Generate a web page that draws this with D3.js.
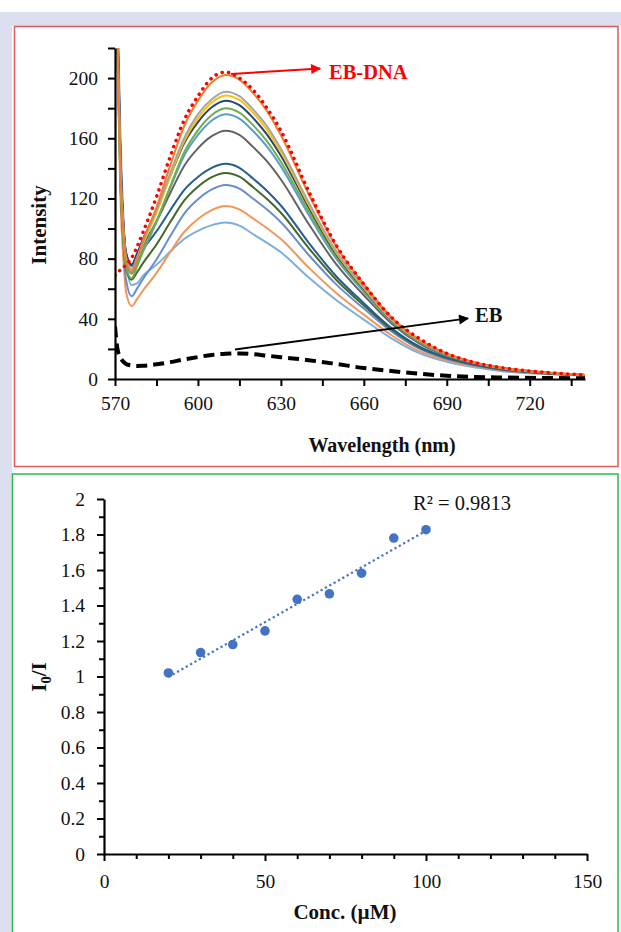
<!DOCTYPE html>
<html>
<head>
<meta charset="utf-8">
<script src="https://cdn.jsdelivr.net/npm/d3@7"></script>
<style>
  html, body { margin: 0; padding: 0; background: #ffffff; }
  svg { display: block; }
  text { font-family: "Liberation Serif", "Times New Roman", serif; }
</style>
</head>
<body>
<svg id="chart" width="621" height="932"></svg>
<script>
// ---------- Fluorescence spectra (wavelength in nm, intensity in a.u.) ----------
const wavelengths = [570,571,572,573,574,576,578,580,585,590,595,600,605,610,615,620,625,630,640,650,660,670,680,690,700,710,725,740];

// EB-DNA complex before quenching (dotted red)
const ebDnaSpectrum = [69,71,72.5,74,76,80.5,88,97,121,148,172,188,200,204,200,192,180,165,125,89,63,41,27,17,11,7.5,4.5,2.7];

// Titration spectra, increasing complex concentration
const spectrum1  = [340,215,135,99,79,71,80,91,114,142,168,185,197,202,199,190,178,162,123,88,63,41,26,17,11.2,7.5,4.5,2.7];
const spectrum2  = [340,220,140,101,81,73,81,91,112,137,160,176,186,191,188,179,168,153,117.5,85,61,40,25.7,16.5,11,7.4,4.4,2.7];
const spectrum3  = [340,215,136,100,80,72,80,89.5,110.4,135,158,173.4,183.8,188.5,185.5,176.8,165.6,151,116,84,60.4,39.4,25.5,16.4,10.9,7.3,4.4,2.7];
const spectrum4  = [345,225,145,104,84,76,83.6,92.4,112,135,156.7,170.8,180.6,185,182,173.4,162.4,148.4,114.3,82.9,59.8,39.1,25.3,16.3,10.9,7.3,4.4,2.7];
const spectrum5  = [340,210,130,93,74,67,75,84,104.3,128,150.6,165.3,175.5,180,177,168.6,158,144.4,111.5,81.3,58.8,38.6,24.9,16.1,10.8,7.2,4.4,2.7];
const spectrum6  = [340,215,135,97,77,70,77.4,85.9,105,127.2,148.4,162.2,171.8,176,173.1,164.7,154.4,141.3,109.3,80,58,38.2,24.6,15.9,10.7,7.1,4.4,2.7];
const spectrum7  = [345,225,142,103,83,75,81.3,88.5,104.7,123.6,141.6,153.3,161.4,165,162.2,154.1,144.6,132.6,103.2,76.3,55.7,36.9,23.7,15.4,10.4,6.9,4.3,2.7];
const spectrum8  = [345,228,145,104,84,76,80.7,86,98.1,112.2,125.6,134.3,140.3,143,140.4,133.1,125,115.3,90.7,68.3,50.4,33.8,21.6,14.2,9.6,6.4,4,2.6];
const spectrum9  = [340,210,128,92,73,66,71,76.7,89.4,104.3,118.5,127.8,134.2,137,134.5,127.4,119.6,110.5,87.2,66,48.9,32.9,21,13.9,9.4,6.3,3.9,2.6];
const spectrum10 = [350,235,150,95,66,55,60.2,66.1,79.4,95,109.8,119.4,126,129,126.6,119.8,112.6,104.2,82.6,62.9,46.8,31.6,20.2,13.3,9,6,3.8,2.5];
const spectrum11 = [330,200,118,80,58,48.5,53.2,58.5,70.4,84.4,97.7,106.4,112.3,115,112.8,106.6,100.2,93,74.2,57.2,42.8,29.1,18.5,12.3,8.4,5.6,3.6,2.4];
const spectrum12 = [350,240,160,110,78,62.5,63.5,68.3,75.9,84.7,93.1,98.5,102.3,104,101.9,96.2,90.5,84.2,67.6,52.5,39.5,27,17.2,11.4,7.8,5.2,3.3,2.3];

const titration = [spectrum1, spectrum2, spectrum3, spectrum4, spectrum5, spectrum6,
                   spectrum7, spectrum8, spectrum9, spectrum10, spectrum11, spectrum12];
const titrationColors = ["#ED7D31","#A5A5A5","#FFC000","#264478","#70AD47","#5B9BD5",
                         "#636363","#255E91","#43682B","#698ED0","#F1975A","#7CAFDD"];

// Free EB (dashed black)
const ebWavelengths = [570,570.5,571,572,573,574,576,578,580,585,590,595,600,605,610,615,620,625,630,640,650,660,670,680,690,700,710,725,740];
const ebSpectrum    = [35,25,19,14,11.5,10,9,8.7,8.8,9.8,11.2,13,14.6,16,16.8,17,16.5,15.5,14.5,12.5,10,7.3,5.3,3.5,2.2,1.4,1,0.7,0.5];

const specXTicks = [570,585,600,615,630,645,660,675,690,705,720,735];
const specXLabels = [570,600,630,660,690,720];
const specYTicks = [0,20,40,60,80,100,120,140,160,180,200,220];
const specYLabels = [0,40,80,120,160,200];

// ---------- Stern-Volmer data ----------
const conc  = [20,30,40,50,60,70,80,90,100];
const ratio = [1.02,1.135,1.18,1.257,1.435,1.466,1.582,1.78,1.827];
const svXTicks = [0,10,20,30,40,50,60,70,80,90,100,110,120,130,140,150];
const svXLabels = [0,50,100,150];
const svYTicks = [0,0.1,0.2,0.3,0.4,0.5,0.6,0.7,0.8,0.9,1,1.1,1.2,1.3,1.4,1.5,1.6,1.7,1.8,1.9,2];
const svYLabels = [0,0.2,0.4,0.6,0.8,1,1.2,1.4,1.6,1.8,2];
const r2Text = "R² = 0.9813";

const svg = d3.select("#chart");
const fmt = d3.format("~g");
const TICK_FONT = 19.5;

// ---------- page frame ----------
svg.append("rect").attr("x", 0).attr("y", 12).attr("width", 621).attr("height", 14).attr("fill", "#dcdfee");
svg.append("rect").attr("x", 0).attr("y", 12).attr("width", 12).attr("height", 920).attr("fill", "#dcdfee");
svg.append("rect").attr("x", 14.5).attr("y", 26.5).attr("width", 603.5).attr("height", 440)
   .attr("fill", "#ffffff").attr("stroke", "#e0585a").attr("stroke-width", 1.5);
svg.append("rect").attr("x", 12.5).attr("y", 474).attr("width", 605.5).attr("height", 470)
   .attr("fill", "#ffffff").attr("stroke", "#2fb84f").attr("stroke-width", 1.5);

const defs = svg.append("defs");
function arrowHead(id, color) {
  defs.append("marker").attr("id", id)
    .attr("viewBox", "0 0 10 10").attr("refX", 9).attr("refY", 5)
    .attr("markerUnits", "userSpaceOnUse").attr("markerWidth", 13).attr("markerHeight", 10)
    .attr("orient", "auto")
    .append("path").attr("d", "M0,0 L10,5 L0,10 Z").attr("fill", color);
}
arrowHead("headRed", "#ff0000");
arrowHead("headBlack", "#000000");

// ---------- emission spectra panel ----------
const xS = d3.scaleLinear().domain([570, 740]).range([115, 585]);
const yS = d3.scaleLinear().domain([0, 220]).range([379, 48]);

defs.append("clipPath").attr("id", "specClip")
  .append("rect").attr("x", 115).attr("y", 48).attr("width", 470).attr("height", 331);

const line = d3.line().x(d => xS(d[0])).y(d => yS(d[1])).curve(d3.curveMonotoneX);
const plot = svg.append("g").attr("clip-path", "url(#specClip)");

titration.slice().reverse().forEach((s, i) => {
  const k = titration.length - 1 - i;
  plot.append("path")
    .attr("d", line(wavelengths.map((w, j) => [w, s[j]])))
    .attr("fill", "none").attr("stroke", titrationColors[k]).attr("stroke-width", 2)
    .attr("stroke-linejoin", "round");
});

plot.append("path")
  .attr("d", line(wavelengths.map((w, j) => [w, ebDnaSpectrum[j]])))
  .attr("fill", "none").attr("stroke", "#ff0000").attr("stroke-width", 3.5)
  .attr("stroke-linecap", "round").attr("stroke-dasharray", "0.1,6.4");

plot.append("path")
  .attr("d", line(ebWavelengths.map((w, j) => [w, ebSpectrum[j]])))
  .attr("fill", "none").attr("stroke", "#000000").attr("stroke-width", 4)
  .attr("stroke-dasharray", "11,6");

// axes
const gx = svg.append("g").attr("transform", "translate(0,379)")
  .call(d3.axisBottom(xS).tickValues(specXTicks).tickSize(7).tickSizeOuter(0).tickPadding(10)
        .tickFormat(d => specXLabels.includes(d) ? fmt(d) : ""));
const gy = svg.append("g").attr("transform", "translate(115,0)")
  .call(d3.axisLeft(yS).tickValues(specYTicks).tickSize(7).tickSizeOuter(0).tickPadding(10)
        .tickFormat(d => specYLabels.includes(d) ? fmt(d) : ""));
[gx, gy].forEach(g => {
  g.select(".domain").attr("stroke", "#000").attr("stroke-width", 2.2);
  g.selectAll(".tick line").attr("stroke", "#000").attr("stroke-width", 2);
  g.selectAll(".tick text").attr("font-size", TICK_FONT).attr("fill", "#111")
    .attr("font-family", "Liberation Serif, Times New Roman, serif");
});

svg.append("text").attr("x", 382).attr("y", 452).attr("text-anchor", "middle")
  .attr("font-size", 20).attr("font-weight", "bold").attr("fill", "#111").text("Wavelength (nm)");
svg.append("text").attr("transform", "translate(46,225) rotate(-90)").attr("text-anchor", "middle")
  .attr("font-size", 21).attr("font-weight", "bold").attr("fill", "#111").text("Intensity");

// annotations
svg.append("line")
  .attr("x1", xS(612)).attr("y1", yS(202.7)).attr("x2", xS(644.2)).attr("y2", yS(206.4))
  .attr("stroke", "#ff0000").attr("stroke-width", 2).attr("marker-end", "url(#headRed)");
svg.append("text").attr("x", xS(647.4)).attr("y", yS(199.4))
  .attr("font-size", 20.5).attr("font-weight", "bold").attr("fill", "#ff0000").text("EB-DNA");

svg.append("line")
  .attr("x1", xS(613.4)).attr("y1", yS(19.6)).attr("x2", xS(697.7)).attr("y2", yS(40.3))
  .attr("stroke", "#000000").attr("stroke-width", 1.8).attr("marker-end", "url(#headBlack)");
svg.append("text").attr("x", xS(700.2)).attr("y", yS(37.9))
  .attr("font-size", 20.5).attr("font-weight", "bold").attr("fill", "#111").text("EB");

// ---------- Stern-Volmer panel ----------
const xB = d3.scaleLinear().domain([0, 150]).range([104, 587]);
const yB = d3.scaleLinear().domain([0, 2]).range([854, 499]);

const near = (a, b) => Math.abs(a - b) < 1e-9;
const gxB = svg.append("g").attr("transform", "translate(0,854)")
  .call(d3.axisBottom(xB).tickValues(svXTicks).tickSize(7).tickSizeOuter(0).tickPadding(13)
        .tickFormat(d => svXLabels.includes(d) ? fmt(d) : ""));
const gyB = svg.append("g").attr("transform", "translate(104,0)")
  .call(d3.axisLeft(yB).tickValues(svYTicks).tickSize(7).tickSizeOuter(0).tickPadding(12)
        .tickFormat(d => svYLabels.some(v => near(v, d)) ? fmt(+d.toFixed(1)) : ""));
gxB.selectAll(".tick").filter(d => !svXLabels.includes(d)).select("line").attr("y2", 5);
gyB.selectAll(".tick").filter(d => !svYLabels.some(v => near(v, d))).select("line").attr("x2", -5);
[gxB, gyB].forEach(g => {
  g.select(".domain").attr("stroke", "#000").attr("stroke-width", 2.2);
  g.selectAll(".tick line").attr("stroke", "#000").attr("stroke-width", 2);
  g.selectAll(".tick text").attr("font-size", TICK_FONT).attr("fill", "#111")
    .attr("font-family", "Liberation Serif, Times New Roman, serif");
});

// least-squares trend line through the points
const mx = d3.mean(conc), my = d3.mean(ratio);
const slope = d3.sum(conc, (x, i) => (x - mx) * (ratio[i] - my)) / d3.sum(conc, x => (x - mx) ** 2);
const intercept = my - slope * mx;
const xr = d3.extent(conc);
svg.append("line")
  .attr("x1", xB(xr[0])).attr("y1", yB(intercept + slope * xr[0]))
  .attr("x2", xB(xr[1])).attr("y2", yB(intercept + slope * xr[1]))
  .attr("stroke", "#4472C4").attr("stroke-width", 2.2).attr("stroke-dasharray", "2.2,2.8");

svg.append("g").selectAll("circle").data(conc).join("circle")
  .attr("cx", d => xB(d)).attr("cy", (d, i) => yB(ratio[i])).attr("r", 4.8)
  .attr("fill", "#4472C4");

svg.append("text").attr("x", xB(96)).attr("y", yB(1.94))
  .attr("font-size", 20.5).attr("fill", "#111").text(r2Text);

svg.append("text").attr("x", 345).attr("y", 919).attr("text-anchor", "middle")
  .attr("font-size", 21).attr("font-weight", "bold").attr("fill", "#111").text("Conc. (µM)");

const yl = svg.append("text").attr("transform", "translate(46,677) rotate(-90)").attr("text-anchor", "middle")
  .attr("font-size", 21).attr("font-weight", "bold").attr("fill", "#111");
yl.append("tspan").text("I");
yl.append("tspan").attr("font-size", 14.5).attr("dy", 5).text("0");
yl.append("tspan").attr("dy", -5).text("/I");
</script>
</body>
</html>
